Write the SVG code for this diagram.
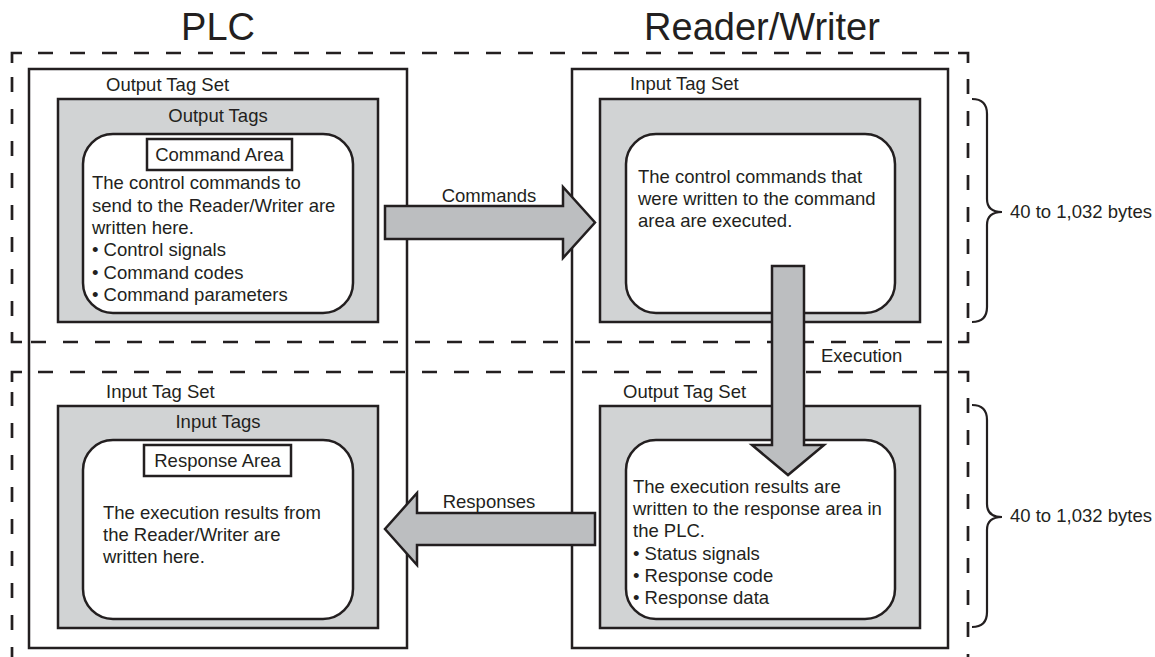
<svg xmlns="http://www.w3.org/2000/svg" width="1155" height="657" viewBox="0 0 1155 657">
<style>
text{font-family:"Liberation Sans",Arial,sans-serif;fill:#231f20;font-size:18.5px}
.title{font-size:38px}
.c{text-anchor:middle}
.dash{fill:none;stroke:#231f20;stroke-width:2.7;stroke-dasharray:15 17}
.corner{fill:none;stroke:#231f20;stroke-width:2.7}
.outer{fill:none;stroke:#231f20;stroke-width:2.5}
.gray{fill:#d1d3d4;stroke:#231f20;stroke-width:2.5}
.white{fill:#fff;stroke:#231f20;stroke-width:2.5}
.arrow{fill:#bcbec0;stroke:#231f20;stroke-width:2.5;stroke-linejoin:miter}
.brace{fill:none;stroke:#231f20;stroke-width:2.2}
</style>
<rect width="1155" height="657" fill="#fff"/>
<g id="titles">
<text class="title c" x="218" y="40">PLC</text>
<text class="title c" x="762" y="40">Reader/Writer</text>
</g>
<g id="regions">
<path class="corner" d="M12,63 L12,53 L22,53 M958,53 L968,53 L968,63 M968,332 L968,342 L958,342 M22,342 L12,342 L12,332"/>
<path class="dash" d="M38,53 L950,53 M968,79 L968,320 M942,342 L30,342 M12,316 L12,72"/>
<path class="corner" d="M12,382 L12,372 L22,372 M958,372 L968,372 L968,382"/>
<path class="dash" d="M38,372 L950,372 M968,398 L968,662 M12,662 L12,392"/>
</g>
<g id="plc-box"><rect class="outer" x="29" y="69" width="378" height="579"/></g>
<g id="rw-box"><rect class="outer" x="572" y="69" width="376" height="579"/></g>
<g id="plc-output">
<text x="106" y="91">Output Tag Set</text>
<rect class="gray" x="58" y="99" width="320" height="223"/>
<text class="c" x="218" y="122">Output Tags</text>
<rect class="white" x="83" y="134" width="270" height="179" rx="30"/>
<rect class="white" x="147" y="139" width="145" height="31"/>
<text class="c" x="219.5" y="161">Command Area</text>
<text x="92" y="189">The control commands to</text>
<text x="92" y="211.5">send to the Reader/Writer are</text>
<text x="92" y="234">written here.</text>
<text x="92" y="256">• Control signals</text>
<text x="92" y="278.5">• Command codes</text>
<text x="92" y="301">• Command parameters</text>
</g>
<g id="rw-input">
<text x="630" y="90">Input Tag Set</text>
<rect class="gray" x="600" y="99" width="320" height="223"/>
<rect class="white" x="626" y="134" width="269" height="179" rx="30"/>
<text x="638" y="183">The control commands that</text>
<text x="638" y="205">were written to the command</text>
<text x="638" y="227">area are executed.</text>
</g>
<g id="plc-input">
<text x="106" y="398">Input Tag Set</text>
<rect class="gray" x="58" y="406" width="320" height="222"/>
<text class="c" x="218" y="428">Input Tags</text>
<rect class="white" x="83" y="440" width="270" height="179" rx="30"/>
<rect class="white" x="144" y="445" width="147" height="31"/>
<text class="c" x="217.5" y="467">Response Area</text>
<text x="103" y="518.5">The execution results from</text>
<text x="103" y="540.5">the Reader/Writer are</text>
<text x="103" y="562.5">written here.</text>
</g>
<g id="rw-output">
<text x="623" y="398">Output Tag Set</text>
<rect class="gray" x="600" y="406" width="320" height="222"/>
<rect class="white" x="626" y="440" width="269" height="179" rx="30"/>
<text x="633" y="493">The execution results are</text>
<text x="633" y="515">written to the response area in</text>
<text x="633" y="537">the PLC.</text>
<text x="633" y="560">• Status signals</text>
<text x="633" y="582">• Response code</text>
<text x="633" y="604">• Response data</text>
</g>
<g id="connectors">
<polygon class="arrow" points="385,206 563,206 563,187 595,222.5 563,258 563,239 385,239"/>
<text class="c" x="489" y="202">Commands</text>
<polygon class="arrow" points="595,513 417,513 417,493 385,529 417,565 417,545 595,545"/>
<text class="c" x="489" y="508">Responses</text>
<polygon class="arrow" points="772,266 804,266 804,445 824,445 788,475 752,445 772,445"/>
<text x="821" y="362">Execution</text>
</g>
<g id="sizes">
<path class="brace" d="M972,99 Q987,99 987,114 L987,199 Q987,212 1002,212 Q987,212 987,225 L987,307 Q987,322 972,322"/>
<text x="1010" y="218">40 to 1,032 bytes</text>
<path class="brace" d="M972,405 Q987,405 987,420 L987,504 Q987,517 1002,517 Q987,517 987,530 L987,612 Q987,627 972,627"/>
<text x="1010" y="522">40 to 1,032 bytes</text>
</g>
</svg>
